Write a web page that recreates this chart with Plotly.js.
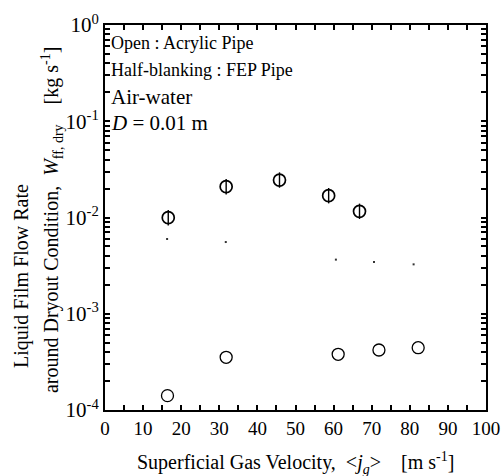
<!DOCTYPE html>
<html>
<head>
<meta charset="utf-8">
<script src="https://cdn.plot.ly/plotly-3.0.1.min.js"></script>
<style>html,body{margin:0;padding:0;background:#fff;} .c{width:504px;height:476px;}</style>
</head>
<body>
<div id="a" class="c"></div>
<script>
// Acrylic pipe (open circles)
const acrylicJg = [16.4, 31.8, 61.2, 71.9, 82.2];
const acrylicW = [0.000141, 0.000353, 0.000379, 0.000420, 0.000444];
// FEP pipe (half-blanking circles)
const fepJg = [16.6, 31.8, 45.8, 58.7, 66.8];
const fepW = [0.00995, 0.0209, 0.0245, 0.01685, 0.0116];
// small dots
const dotJg = [16.3, 31.7, 60.6, 70.6, 81.0];
const dotW = [0.00598, 0.00556, 0.00365, 0.00345, 0.00326];
// x tick labels (every 10, unlabeled ticks at every 5)
const xTickVals = [0, 5, 10, 15, 20, 25, 30, 35, 40, 45, 50, 55, 60, 65, 70, 75, 80, 85, 90, 95, 100];
const xTickText = ['0', '', '10', '', '20', '', '30', '', '40', '', '50', '', '60', '', '70', '', '80', '', '90', '', '100'];
// y tick labels (decades labeled, 2..9 unlabeled)
const yDecades = [-4, -3, -2, -1, 0];
const yTickVals = [];
const yTickText = [];
yDecades.forEach(function (p) {
  yTickVals.push(Math.pow(10, p));
  yTickText.push('10<sup>' + (p < 0 ? '-' + (-p) : p) + '</sup>');
  if (p < 0) for (let k = 2; k <= 9; k++) { yTickVals.push(k * Math.pow(10, p)); yTickText.push(''); }
});

const SERIF = 'Liberation Serif';

function axisStyle(len) {
  return {
    ticks: 'inside', ticklen: len, tickwidth: 2, tickcolor: '#000',
    showline: true, linewidth: 2, linecolor: '#000',
    mirror: 'ticks', showgrid: false, zeroline: false
  };
}

const traces = [
  {x: acrylicJg, y: acrylicW, mode: 'markers', type: 'scatter',
   marker: {symbol: 'circle-open', size: 12, color: '#000', line: {width: 1.3}}},
  {x: fepJg, y: fepW, mode: 'markers', type: 'scatter',
   marker: {symbol: 'circle-open', size: 12, color: '#000', line: {width: 1.7}}},
  {x: fepJg, y: fepW, mode: 'markers', type: 'scatter',
   marker: {symbol: 'line-ns-open', size: 11, color: '#000', line: {width: 1.4}}},
  {x: dotJg, y: dotW, mode: 'markers', type: 'scatter',
   marker: {symbol: 'square', size: 2, color: '#333'}}
];

const layout = {
  width: 504, height: 476,
  margin: {l: 105, r: 18, t: 25, b: 66},
  showlegend: false,
  xaxis: Object.assign({range: [0, 100], tickmode: 'array', tickvals: xTickVals, ticktext: xTickText,
    tickfont: {family: SERIF, size: 19, color: '#000'}}, axisStyle(5)),
  yaxis: Object.assign({type: 'log', range: [-4, 0], tickmode: 'array', tickvals: yTickVals, ticktext: yTickText,
    tickfont: {family: SERIF, size: 21, color: '#000'}}, axisStyle(5)),
  annotations: [
    {text: 'Open : Acrylic Pipe', xref: 'paper', yref: 'paper', x: 0.010, y: 0.953,
     xanchor: 'left', yanchor: 'middle', showarrow: false, font: {family: SERIF, size: 18, color: '#000'}},
    {text: 'Half-blanking : FEP Pipe', xref: 'paper', yref: 'paper', x: 0.010, y: 0.883,
     xanchor: 'left', yanchor: 'middle', showarrow: false, font: {family: SERIF, size: 18, color: '#000'}},
    {text: 'Air-water', xref: 'paper', yref: 'paper', x: 0.010, y: 0.813,
     xanchor: 'left', yanchor: 'middle', showarrow: false, font: {family: SERIF, size: 21, color: '#000'}},
    {text: '<i>D</i> = 0.01 m', xref: 'paper', yref: 'paper', x: 0.010, y: 0.745,
     xanchor: 'left', yanchor: 'middle', showarrow: false, font: {family: SERIF, size: 21, color: '#000'}},
    {text: 'Superficial Gas Velocity,&nbsp;&nbsp;&lt;<i>j</i><sub><i>g</i></sub>&gt;&nbsp;&nbsp;&nbsp;&nbsp;[m s<sup>-1</sup>]',
     xref: 'paper', yref: 'paper', x: 0.499, y: -0.138,
     xanchor: 'center', yanchor: 'middle', showarrow: false, font: {family: SERIF, size: 20, color: '#000'}},
    {text: 'Liquid Film Flow Rate', xref: 'paper', yref: 'paper', x: -0.2205, y: 0.348,
     textangle: -90, xanchor: 'center', yanchor: 'middle', showarrow: false, font: {family: SERIF, size: 20, color: '#000'}},
    {text: 'around Dryout Condition,&nbsp;&nbsp;<i>W</i><sub>ff, dry</sub>&nbsp;&nbsp;&nbsp;&nbsp;[kg s<sup>-1</sup>]',
     xref: 'paper', yref: 'paper', x: -0.139, y: 0.4935,
     textangle: -90, xanchor: 'center', yanchor: 'middle', showarrow: false, font: {family: SERIF, size: 20, color: '#000'}}
  ]
};

Plotly.newPlot('a', traces, layout, {displayModeBar: false});
</script>
</body>
</html>
